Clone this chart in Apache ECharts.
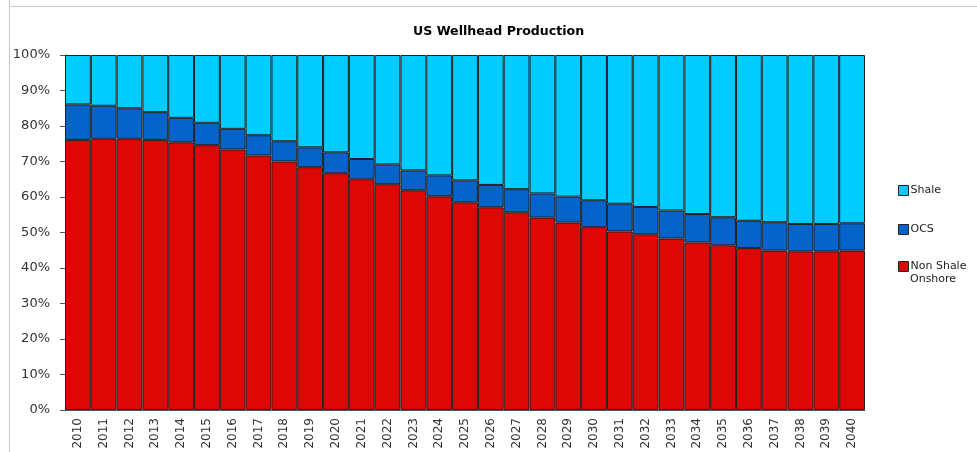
<!DOCTYPE html>
<html>
<head>
<meta charset="utf-8">
<script src="https://cdn.jsdelivr.net/npm/echarts@6/dist/echarts.min.js"></script>
<style>html,body{margin:0;padding:0;background:#fff;}#c{width:977px;height:452px;}</style>
</head>
<body>
<div id="c"></div>
<script>
const years = ['2010','2011','2012','2013','2014','2015','2016','2017','2018','2019','2020','2021','2022','2023','2024','2025','2026','2027','2028','2029','2030','2031','2032','2033','2034','2035','2036','2037','2038','2039','2040'];
const nonShaleOnshore = [76.1,76.4,76.4,76.1,75.4,74.6,73.4,71.7,70.0,68.4,66.7,65.0,63.6,61.9,60.2,58.5,57.1,55.7,54.2,52.8,51.5,50.3,49.5,48.3,47.2,46.4,45.6,44.9,44.7,44.7,44.9];
const ocs = [10.0,9.3,8.6,7.8,6.9,6.3,5.8,5.7,5.7,5.6,5.9,5.7,5.6,5.6,5.9,6.2,6.3,6.5,6.8,7.3,7.6,7.8,7.7,7.9,8.0,7.9,7.7,8.0,7.7,7.7,7.7];
const shale = [13.9,14.3,15.0,16.1,17.7,19.1,20.8,22.6,24.3,26.0,27.4,29.3,30.8,32.5,33.9,35.3,36.6,37.8,39.0,39.9,40.9,41.9,42.8,43.8,44.8,45.7,46.7,47.1,47.6,47.6,47.4];

const chart = echarts.init(document.getElementById('c'), null, {renderer:'canvas'});
const border = {borderColor:'#1e1e1e', borderWidth:1};
const legendText = {fontFamily:'DejaVu Sans', fontSize:11, color:'#222', lineHeight:15, padding:[0,0,0,-3]};
const legendBase = {
  orient:'vertical', left:898, padding:0, itemWidth:10, itemHeight:10, itemGap:24,
  icon:'rect', textStyle:legendText,
  itemStyle:{borderColor:'#222', borderWidth:1}
};
chart.setOption({
  animation:false,
  backgroundColor:'#fff',
  title:{text:'US Wellhead Production', left:408, top:20,
    textStyle:{fontFamily:'DejaVu Sans', fontSize:12.6, fontWeight:'bold', color:'#000'}},
  graphic:[
    {type:'line', shape:{x1:9.5,y1:0,x2:9.5,y2:452}, style:{stroke:'#c8c8c8', lineWidth:1}, silent:true},
    {type:'line', shape:{x1:9,y1:6.5,x2:977,y2:6.5}, style:{stroke:'#c8c8c8', lineWidth:1}, silent:true},
    {type:'text', left:910, top:274, silent:true,
      style:{text:'Onshore', fontFamily:'DejaVu Sans', fontSize:11, fill:'#222'}}
  ],
  legend:[
    Object.assign({}, legendBase, {top:183, data:['Shale','OCS']}),
    Object.assign({}, legendBase, {top:259, data:['Non Shale Onshore'],
      formatter: () => 'Non Shale'})
  ],
  grid:{left:65, right:112, top:55, bottom:42},
  xAxis:{type:'category', data:years, boundaryGap:true,
    axisLine:{lineStyle:{color:'#555', width:1}},
    axisTick:{length:5, lineStyle:{color:'#555'}},
    axisLabel:{rotate:90, interval:0, fontFamily:'DejaVu Sans', fontSize:12, color:'#333', margin:8}
  },
  yAxis:{type:'value', min:0, max:100, interval:10,
    axisLine:{show:true, lineStyle:{color:'#555', width:1}},
    axisTick:{show:true, length:5, lineStyle:{color:'#555'}},
    splitLine:{show:false},
    axisLabel:{formatter:'{value}%', fontFamily:'DejaVu Sans', fontSize:13, color:'#333', margin:15}
  },
  series:[
    {name:'Non Shale Onshore', type:'bar', stack:'t', data:nonShaleOnshore, barCategoryGap:'0%',
      itemStyle:Object.assign({color:'#dd0806'}, border)},
    {name:'OCS', type:'bar', stack:'t', data:ocs, barCategoryGap:'0%',
      itemStyle:Object.assign({color:'#0563c9'}, border)},
    {name:'Shale', type:'bar', stack:'t', data:shale, barCategoryGap:'0%',
      itemStyle:Object.assign({color:'#00ccff'}, border)}
  ]
});
</script>
</body>
</html>
